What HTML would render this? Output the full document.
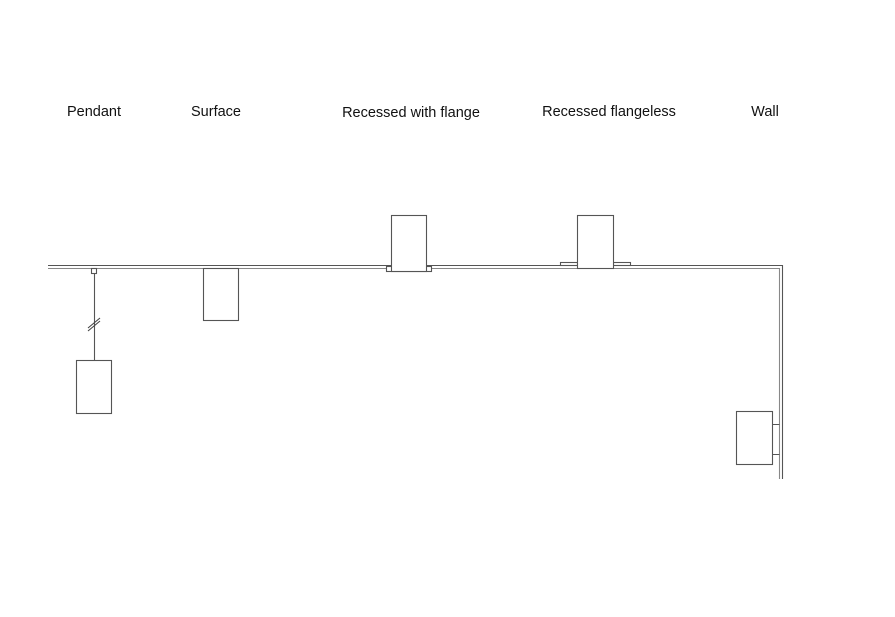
<!DOCTYPE html>
<html><head><style>
body{margin:0;background:#fff;width:895px;height:612px;overflow:hidden}
svg text{font-family:"Liberation Sans",sans-serif;font-size:14.5px;fill:#111;text-anchor:middle}
</style></head><body>
<svg width="895" height="612" viewBox="0 0 895 612">
<text x="94" y="116">Pendant</text>
<text x="216" y="116">Surface</text>
<text x="411" y="117">Recessed with flange</text>
<text x="609" y="116">Recessed flangeless</text>
<text x="765" y="116">Wall</text>
<g fill="none" stroke="#555" stroke-width="1.1">
<path d="M48 265.5H782.5V479"/>
<path d="M48 268.5H779.5V479" stroke="#888"/>
<rect x="91.5" y="268.5" width="5" height="5"/>
<path d="M94.5 273.5V360"/>
<path d="M88 328L100 318M88 331L100 321" stroke="#444"/>
<rect x="76.5" y="360.5" width="35" height="53"/>
<rect x="203.5" y="268.5" width="35" height="52"/>
<rect x="386.5" y="266.5" width="45" height="5" fill="#fff"/>
<rect x="391.5" y="215.5" width="35" height="56" fill="#fff"/>
<rect x="560.5" y="262.5" width="17" height="3"/>
<rect x="613.5" y="262.5" width="17" height="3"/>
<rect x="577.5" y="215.5" width="36" height="53" fill="#fff"/>
<rect x="736.5" y="411.5" width="36" height="53"/>
<path d="M772.5 424.5H779.5M772.5 454.5H779.5"/>
</g>
</svg>
</body></html>
